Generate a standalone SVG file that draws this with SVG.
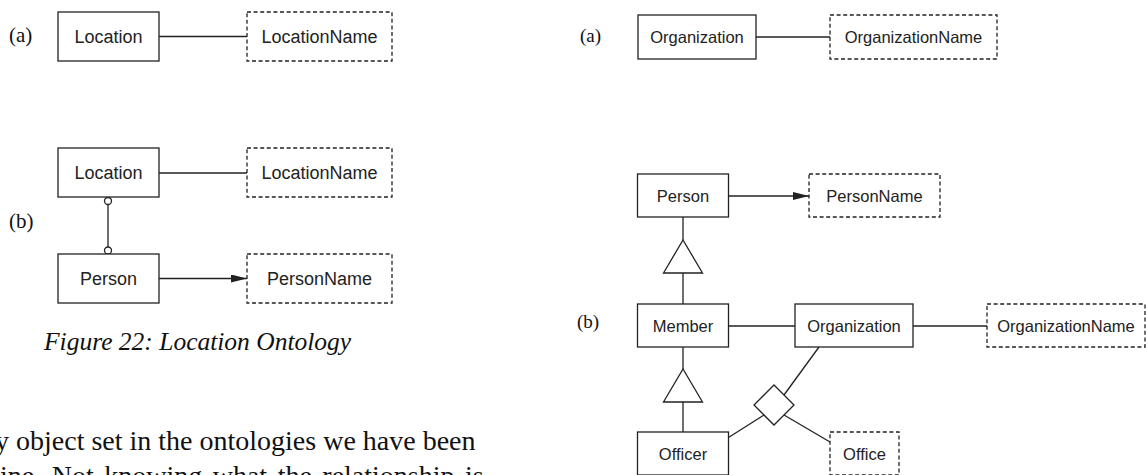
<svg xmlns="http://www.w3.org/2000/svg" width="1146" height="475" viewBox="0 0 1146 475">
<defs>
<style>
.box{fill:#fff;stroke:#222;stroke-width:1.3}
.dbox{fill:#fff;stroke:#222;stroke-width:1.3;stroke-dasharray:4 2.6}
.ln{fill:none;stroke:#222;stroke-width:1.3}
.sym{fill:#fff;stroke:#222;stroke-width:1.3}
.t1{font-family:"Liberation Sans",Arial,sans-serif;font-size:18px;fill:#222;text-anchor:middle}
.t2{font-family:"Liberation Sans",Arial,sans-serif;font-size:16.5px;fill:#222;text-anchor:middle}
.lab{font-family:"Liberation Serif","Times New Roman",serif;fill:#111}
.body{font-family:"Liberation Serif","Times New Roman",serif;font-size:28px;fill:#111}
.cap{font-family:"Liberation Serif","Times New Roman",serif;font-size:25.5px;font-style:italic;fill:#111}
</style>
<marker id="arr" markerWidth="16" markerHeight="8" refX="16" refY="4" orient="auto" markerUnits="userSpaceOnUse">
<path d="M0,0 L16,4 L0,8 Z" fill="#222"/>
</marker>
</defs>

<!-- labels -->
<text class="lab" x="9" y="42" font-size="21">(a)</text>
<text class="lab" x="9" y="228" font-size="21">(b)</text>
<text class="lab" x="580" y="42" font-size="19">(a)</text>
<text class="lab" x="577" y="328" font-size="19">(b)</text>

<!-- connectors -->
<g id="connectors">
<line class="ln" x1="159" y1="36.5" x2="247" y2="36.5"/>
<line class="ln" x1="159" y1="173" x2="247" y2="173"/>
<line class="ln" x1="108" y1="204.5" x2="108" y2="247"/>
<circle class="sym" cx="108" cy="201" r="3.5"/>
<circle class="sym" cx="108" cy="250.5" r="3.5"/>
<line class="ln" x1="159" y1="278.5" x2="247" y2="278.5" marker-end="url(#arr)"/>

<line class="ln" x1="756" y1="37" x2="830" y2="37"/>
<line class="ln" x1="728.5" y1="196" x2="809" y2="196" marker-end="url(#arr)"/>
<line class="ln" x1="683" y1="217" x2="683" y2="240"/>
<polygon class="sym" points="683,240 702.5,273 663.5,273"/>
<line class="ln" x1="683" y1="273" x2="683" y2="304"/>
<line class="ln" x1="728.5" y1="326" x2="795" y2="326"/>
<line class="ln" x1="913" y1="326" x2="987" y2="326"/>
<line class="ln" x1="683" y1="347" x2="683" y2="369"/>
<polygon class="sym" points="683,369 702.5,402 663.5,402"/>
<line class="ln" x1="683" y1="402" x2="683" y2="432"/>
<line class="ln" x1="819" y1="347" x2="784" y2="395"/>
<line class="ln" x1="764" y1="415" x2="728.5" y2="437.5"/>
<line class="ln" x1="784" y1="415" x2="830" y2="442"/>
<polygon class="sym" points="774,385 794,405 774,425 754,405"/>
</g>

<!-- left diagram nodes -->
<g id="loc-a"><rect class="box" x="58" y="12" width="101" height="49"/><text class="t1" x="108.5" y="43">Location</text></g>
<g id="locname-a"><rect class="dbox" x="247" y="12" width="145" height="49"/><text class="t1" x="319.5" y="43">LocationName</text></g>
<g id="loc-b"><rect class="box" x="58" y="148" width="101" height="49"/><text class="t1" x="108.5" y="179">Location</text></g>
<g id="locname-b"><rect class="dbox" x="247" y="148" width="145" height="49"/><text class="t1" x="319.5" y="179">LocationName</text></g>
<g id="person-b"><rect class="box" x="58" y="254" width="101" height="49"/><text class="t1" x="108.5" y="285">Person</text></g>
<g id="personname-b"><rect class="dbox" x="247" y="254" width="145" height="49"/><text class="t1" x="319.5" y="285">PersonName</text></g>

<!-- right diagram nodes -->
<g id="org-a"><rect class="box" x="638" y="15" width="118" height="44"/><text class="t2" x="697" y="43">Organization</text></g>
<g id="orgname-a"><rect class="dbox" x="830" y="15" width="167" height="44"/><text class="t2" x="913.5" y="43">OrganizationName</text></g>
<g id="person-r"><rect class="box" x="637.5" y="174" width="91" height="43"/><text class="t2" x="683" y="201.5">Person</text></g>
<g id="personname-r"><rect class="dbox" x="809" y="174" width="131" height="43"/><text class="t2" x="874.5" y="201.5">PersonName</text></g>
<g id="member"><rect class="box" x="637.5" y="304" width="91" height="43"/><text class="t2" x="683" y="331.5">Member</text></g>
<g id="org-b"><rect class="box" x="795" y="304" width="118" height="43"/><text class="t2" x="854" y="331.5">Organization</text></g>
<g id="orgname-b"><rect class="dbox" x="987" y="304" width="158" height="43"/><text class="t2" x="1066" y="331.5">OrganizationName</text></g>
<g id="officer"><rect class="box" x="637.5" y="432" width="91" height="43"/><text class="t2" x="683" y="459.5">Officer</text></g>
<g id="office"><rect class="dbox" x="830" y="432" width="69" height="43"/><text class="t2" x="864.5" y="459.5">Office</text></g>

<!-- caption and body text -->
<text class="cap" x="44" y="350">Figure 22: Location Ontology</text>
<text class="body" x="-5" y="450">y object set in the ontologies we have been</text>
<text class="body" x="0" y="485" word-spacing="3.5">ine. Not knowing what the relationship is</text>
</svg>
